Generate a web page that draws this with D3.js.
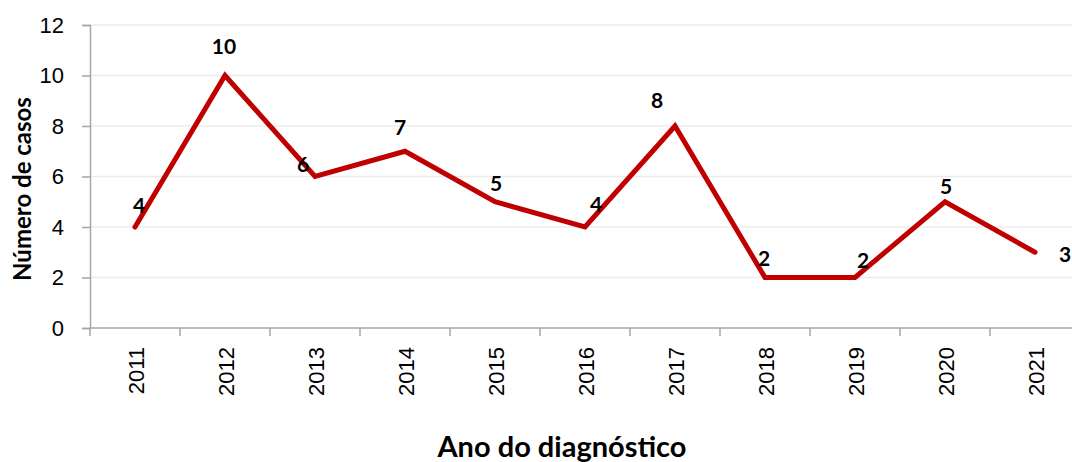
<!DOCTYPE html>
<html>
<head>
<meta charset="utf-8">
<script src="https://cdn.jsdelivr.net/npm/d3@7"></script>
<style>
  body { margin: 0; background: #fff; }
  svg { display: block; }
</style>
</head>
<body>
<svg id="chart" width="1072" height="462"></svg>
<script>
// chart data
const years = ['2011', '2012', '2013', '2014', '2015', '2016', '2017', '2018', '2019', '2020', '2021'];
const cases = [4, 10, 6, 7, 5, 4, 8, 2, 2, 5, 3];
const yTicks = [0, 2, 4, 6, 8, 10, 12];

// where each data label sits relative to its point (like excel did it)
const labelOffsets = [[4, -14], [-1, -22], [-12, -5], [-5, -16], [1, -11], [11, -15],
  [-18, -18], [-1, -12], [8, -10], [1, -8], [30, 10]];

const svg = d3.select('#chart');
const plotLeft = 90, plotRight = 1080, plotTop = 25, plotBottom = 328;

const x = d3.scaleBand().domain(years).range([plotLeft, plotRight]);
const y = d3.scaleLinear().domain([0, 12]).range([plotBottom, plotTop]);

// gridlines
svg.append('g')
  .selectAll('line')
  .data(yTicks.filter(d => d > 0))
  .enter()
  .append('line')
  .attr('x1', plotLeft)
  .attr('x2', 1072)
  .attr('y1', d => y(d))
  .attr('y2', d => y(d))
  .attr('stroke', '#ececec')
  .attr('stroke-width', 1.5);

// y axis
const yAxis = svg.append('g')
  .attr('transform', `translate(${plotLeft},0)`)
  .call(d3.axisLeft(y).tickValues(yTicks).tickSize(8).tickPadding(18));
yAxis.select('.domain').attr('stroke', '#a6a6a6').attr('stroke-width', 1.5);
yAxis.selectAll('.tick line').attr('stroke', '#a6a6a6').attr('stroke-width', 1.5);
yAxis.selectAll('.tick text')
  .attr('font-family', '"Liberation Sans", Arial, sans-serif')
  .attr('font-size', 22)
  .attr('fill', '#000');

// x axis (ticks between categories)
const xAxis = svg.append('g')
  .attr('transform', `translate(0,${plotBottom})`);
xAxis.append('line')
  .attr('x1', plotLeft).attr('x2', 1072)
  .attr('stroke', '#a6a6a6').attr('stroke-width', 1.5);
xAxis.selectAll('.xtick')
  .data(years)
  .enter()
  .append('line')
  .attr('class', 'xtick')
  .attr('x1', d => x(d))
  .attr('x2', d => x(d))
  .attr('y1', 0)
  .attr('y2', 8)
  .attr('stroke', '#a6a6a6')
  .attr('stroke-width', 1.5);
xAxis.selectAll('.xlabel')
  .data(years)
  .enter()
  .append('text')
  .attr('class', 'xlabel')
  .attr('transform', d => `translate(${x(d) + x.bandwidth() / 2 + 9},19) rotate(-90)`)
  .attr('text-anchor', 'end')
  .attr('font-family', '"Liberation Sans", Arial, sans-serif')
  .attr('font-size', 22)
  .attr('fill', '#000')
  .text(d => d);

// the line
const line = d3.line()
  .x((d, i) => x(years[i]) + x.bandwidth() / 2)
  .y(d => y(d));

svg.append('path')
  .datum(cases)
  .attr('d', line)
  .attr('fill', 'none')
  .attr('stroke', '#c00000')
  .attr('stroke-width', 5)
  .attr('stroke-linejoin', 'miter')
  .attr('stroke-linecap', 'round');

// data labels
svg.append('g')
  .selectAll('text')
  .data(cases)
  .enter()
  .append('text')
  .attr('x', (d, i) => x(years[i]) + x.bandwidth() / 2 + labelOffsets[i][0])
  .attr('y', (d, i) => y(d) + labelOffsets[i][1])
  .attr('text-anchor', 'middle')
  .attr('font-family', 'Lato, "Open Sans", sans-serif')
  .attr('font-weight', 'bold')
  .attr('font-size', 21)
  .attr('fill', '#000')
  .text(d => d);

// axis titles
svg.append('text')
  .attr('x', 562)
  .attr('y', 457)
  .attr('text-anchor', 'middle')
  .attr('font-family', 'Lato, "Open Sans", sans-serif')
  .attr('font-weight', 'bold')
  .attr('font-size', 29)
  .attr('fill', '#000')
  .text('Ano do diagnóstico');

svg.append('text')
  .attr('transform', 'translate(31,189) rotate(-90)')
  .attr('text-anchor', 'middle')
  .attr('font-family', 'Lato, "Open Sans", sans-serif')
  .attr('font-weight', 'bold')
  .attr('font-size', 24)
  .attr('fill', '#000')
  .text('Número de casos');
</script>
</body>
</html>
